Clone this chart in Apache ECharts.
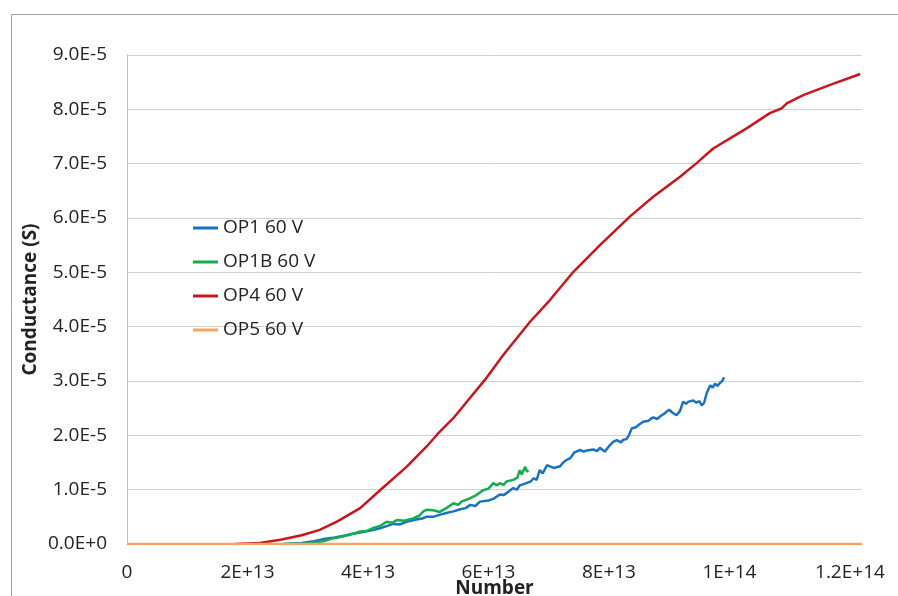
<!DOCTYPE html>
<html>
<head>
<meta charset="utf-8">
<title>Conductance vs Number</title>
<script src="https://cdn.jsdelivr.net/npm/echarts@6/dist/echarts.min.js"></script>
<style>
  html, body { margin: 0; padding: 0; background: #fff; }
  #chart { width: 898px; height: 596px; }
</style>
</head>
<body>
<div id="chart"></div>
<script>
  /* x values are in units of 1E+13, y values in units of 1E-5 S */
  var X_UNIT = 1e13, Y_UNIT = 1e-5;

  var seriesNames = ['OP1 60 V', 'OP1B 60 V', 'OP4 60 V', 'OP5 60 V'];
  var colors = ['#1a72c2', '#12ad4c', '#c8161d', '#f9a25c'];

  var op1X = [2.6, 2.9, 3.1, 3.26, 3.45, 3.6, 3.7, 3.87, 4.0, 4.1, 4.2, 4.31, 4.42, 4.53, 4.64, 4.8, 4.9, 4.97, 5.08,
    5.2, 5.3, 5.42, 5.53, 5.62, 5.7, 5.78, 5.86, 6.0, 6.08, 6.19, 6.25, 6.33, 6.41, 6.47, 6.52, 6.63, 6.7, 6.75, 6.8,
    6.85, 6.9, 6.97, 7.08, 7.19, 7.24, 7.30, 7.36, 7.42, 7.52, 7.58, 7.63, 7.74, 7.8, 7.85, 7.93, 8.0, 8.07, 8.13,
    8.2, 8.24, 8.29, 8.33, 8.38, 8.45, 8.5, 8.57, 8.66, 8.7, 8.74, 8.8, 8.85, 8.92, 8.96, 9.0, 9.05, 9.12, 9.18, 9.23,
    9.28, 9.32, 9.40, 9.45, 9.5, 9.54, 9.58, 9.62, 9.68, 9.72, 9.76, 9.8, 9.84, 9.88, 9.91];
  var op1Y = [0, 0.02, 0.05, 0.09, 0.12, 0.15, 0.18, 0.21, 0.24, 0.26, 0.29, 0.33, 0.37, 0.36, 0.41, 0.45, 0.47, 0.5, 0.5,
    0.54, 0.57, 0.6, 0.64, 0.66, 0.72, 0.7, 0.78, 0.8, 0.83, 0.91, 0.9, 0.96, 1.03, 1.0, 1.08, 1.12, 1.15, 1.21, 1.18,
    1.36, 1.3, 1.45, 1.4, 1.43, 1.5, 1.55, 1.58, 1.68, 1.73, 1.7, 1.72, 1.74, 1.71, 1.77, 1.7, 1.8, 1.88, 1.91,
    1.87, 1.92, 1.93, 2.0, 2.13, 2.15, 2.2, 2.25, 2.27, 2.31, 2.33, 2.3, 2.35, 2.4, 2.44, 2.47, 2.42, 2.37, 2.45, 2.62,
    2.58, 2.62, 2.64, 2.6, 2.63, 2.55, 2.6, 2.77, 2.92, 2.88, 2.95, 2.91, 2.96, 3.0, 3.07];

  var op1bX = [2.6, 3.0, 3.26, 3.4, 3.5, 3.7, 3.87, 3.98, 4.1, 4.2, 4.31, 4.4, 4.48, 4.6, 4.75, 4.85, 4.92, 4.97, 5.08,
    5.19, 5.3, 5.42, 5.5, 5.55, 5.69, 5.8, 5.91, 6.0, 6.08, 6.14, 6.19, 6.25, 6.30, 6.41, 6.48, 6.52, 6.55, 6.58,
    6.61, 6.64, 6.66];
  var op1bY = [0, 0.01, 0.05, 0.1, 0.12, 0.17, 0.23, 0.24, 0.3, 0.33, 0.41, 0.39, 0.44, 0.43, 0.47, 0.52, 0.6, 0.63, 0.62,
    0.59, 0.66, 0.75, 0.72, 0.78, 0.84, 0.9, 0.99, 1.02, 1.12, 1.08, 1.12, 1.09, 1.15, 1.18, 1.22, 1.36, 1.28, 1.30,
    1.42, 1.33, 1.36];

  var op4X = [1.8, 2.2, 2.55, 2.9, 3.2, 3.5, 3.87, 4.2, 4.64, 4.97, 5.16, 5.42, 5.665, 5.94, 6.245, 6.69, 7.02, 7.41,
    7.85, 8.35, 8.735, 9.18, 9.455, 9.73, 10.285, 10.67, 10.87, 10.95, 11.225, 11.67, 12.17];
  var op4Y = [0, 0.02, 0.08, 0.16, 0.26, 0.42, 0.66, 0.99, 1.42, 1.79, 2.03, 2.32, 2.65, 3.02, 3.48, 4.09, 4.49, 5.01,
    5.50, 6.03, 6.39, 6.76, 7.01, 7.28, 7.65, 7.93, 8.02, 8.11, 8.26, 8.45, 8.65];

  var op5X = [0, 2, 4, 6, 8, 10, 12.2];
  var op5Y = [0, 0, 0, 0, 0, 0, 0];

  var xTicks = {min: 0, max: 12.2, interval: 2};
  var yTicks = {min: 0, max: 9, interval: 1};

  function pairs(xs, ys) {
    return xs.map(function (x, i) { return [x * X_UNIT, ys[i] * Y_UNIT]; });
  }

  /* Excel-like scientific labels */
  function xLabel(v) {
    if (Math.abs(v) < 1) return '0';
    return Number(v.toPrecision(6)).toExponential().toUpperCase();
  }
  function yLabel(v) {
    return Number(v.toPrecision(6)).toExponential(1).toUpperCase();
  }

  var font = '"Open Sans", "Noto Sans", sans-serif';
  var textColor = '#222';

  var chart = echarts.init(document.getElementById('chart'), null, {renderer: 'canvas'});

  var seriesData = [pairs(op1X, op1Y), pairs(op1bX, op1bY), pairs(op4X, op4Y), pairs(op5X, op5Y)];

  var series = seriesNames.map(function (name, i) {
    return {
      name: name,
      type: 'line',
      data: seriesData[i],
      symbol: 'none',
      animation: false,
      lineStyle: {color: colors[i], width: 2.5},
      itemStyle: {color: colors[i]},
      z: 2 + i
    };
  });

  chart.setOption({
    backgroundColor: '#fff',
    color: colors,
    textStyle: {fontFamily: font},
    grid: {left: 127, right: 36, top: 55, bottom: 52, containLabel: false, outerBoundsMode: 'none'},
    /* outer chart frame */
    graphic: [{
      type: 'rect',
      shape: {x: 11.5, y: 14.5, width: 900, height: 600},
      style: {fill: null, stroke: '#a0a0a0', lineWidth: 1},
      silent: true
    }],
    legend: {
      orient: 'vertical',
      left: 193,
      top: 218,
      padding: 0,
      icon: 'rect',
      itemWidth: 25,
      itemHeight: 3,
      itemGap: 14,
      textStyle: {fontFamily: font, fontSize: 19, color: textColor, lineHeight: 20}
    },
    xAxis: {
      type: 'value',
      min: xTicks.min * X_UNIT,
      max: xTicks.max * X_UNIT,
      interval: xTicks.interval * X_UNIT,
      name: 'Number',
      nameLocation: 'middle',
      nameGap: 35,
      nameMoveOverlap: false,
      nameTextStyle: {fontFamily: font, fontSize: 19, fontWeight: 'bold', color: textColor},
      axisLine: {lineStyle: {color: '#bfbfbf', width: 1}},
      axisTick: {show: false},
      splitLine: {show: false},
      axisLabel: {
        fontFamily: font, fontSize: 19, color: textColor, margin: 19,
        showMaxLabel: false,
        formatter: xLabel
      }
    },
    yAxis: {
      type: 'value',
      min: yTicks.min * Y_UNIT,
      max: yTicks.max * Y_UNIT,
      interval: yTicks.interval * Y_UNIT,
      name: 'Conductance (S)',
      nameLocation: 'middle',
      nameGap: 87,
      nameMoveOverlap: false,
      nameTextStyle: {fontFamily: font, fontSize: 19, fontWeight: 'bold', color: textColor},
      axisLine: {show: true, lineStyle: {color: '#bfbfbf', width: 1}},
      axisTick: {show: false},
      splitLine: {lineStyle: {color: '#d0d0d0', width: 1}},
      axisLabel: {
        fontFamily: font, fontSize: 19, color: textColor, margin: 20,
        formatter: yLabel
      }
    },
    series: series
  });
</script>
</body>
</html>
